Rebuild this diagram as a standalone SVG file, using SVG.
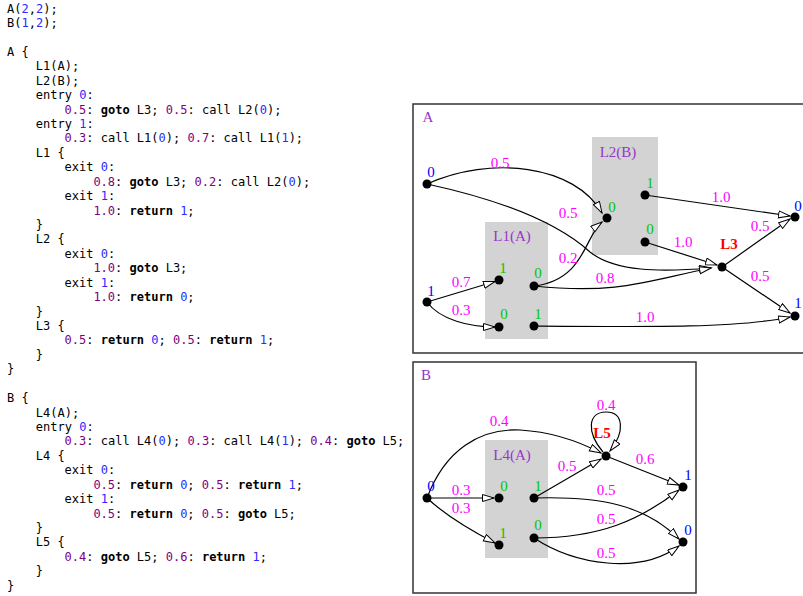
<svg xmlns="http://www.w3.org/2000/svg" width="803" height="596" viewBox="0 0 803 596">
<style>
.c{font-family:"DejaVu Sans Mono","Liberation Mono",monospace;font-size:12px;fill:#000;white-space:pre}
.n{fill:#2a2aff}
.p{fill:#800080}
.k{font-weight:bold}
.frame{fill:none;stroke:#333;stroke-width:1.5}
.box{fill:#d3d3d3;stroke:none}
.t{font-family:"Liberation Serif","Times New Roman",serif;font-size:15px;text-anchor:middle}
.pr{fill:#ff00ff}
.bl{fill:#0000ff}
.gr{fill:#00c800}
.pu{fill:#9933cc}
.rd{fill:#ff0000;font-weight:bold}
.dot{fill:#000}
.e{fill:none;stroke:#000;stroke-width:1.2;marker-end:url(#arr)}
</style>
<defs>
<marker id="arr" markerUnits="userSpaceOnUse" markerWidth="14" markerHeight="10" refX="12" refY="4" orient="auto">
<path d="M0.5,0.5 L12,4 L0.5,7.5 z" fill="#fff" stroke="#000" stroke-width="1"/>
</marker>
</defs>
<rect width="803" height="596" fill="#fff"/>

<g id="code">
<text class="c" x="7" y="12.5" xml:space="preserve">A(<tspan class="n">2</tspan>,<tspan class="n">2</tspan>);</text>
<text class="c" x="7" y="26.9" xml:space="preserve">B(<tspan class="n">1</tspan>,<tspan class="n">2</tspan>);</text>
<text class="c" x="7" y="55.8" xml:space="preserve">A {</text>
<text class="c" x="35.8" y="70.2" xml:space="preserve">L1(A);</text>
<text class="c" x="35.8" y="84.7" xml:space="preserve">L2(B);</text>
<text class="c" x="35.8" y="99.1" xml:space="preserve">entry <tspan class="n">0</tspan>:</text>
<text class="c" x="64.6" y="113.5" xml:space="preserve"><tspan class="p">0.5</tspan>: <tspan class="k">goto</tspan> L3; <tspan class="p">0.5</tspan>: call L2(<tspan class="n">0</tspan>);</text>
<text class="c" x="35.8" y="127.9" xml:space="preserve">entry <tspan class="n">1</tspan>:</text>
<text class="c" x="64.6" y="142.4" xml:space="preserve"><tspan class="p">0.3</tspan>: call L1(<tspan class="n">0</tspan>); <tspan class="p">0.7</tspan>: call L1(<tspan class="n">1</tspan>);</text>
<text class="c" x="35.8" y="156.8" xml:space="preserve">L1 {</text>
<text class="c" x="64.6" y="171.2" xml:space="preserve">exit <tspan class="n">0</tspan>:</text>
<text class="c" x="93.4" y="185.7" xml:space="preserve"><tspan class="p">0.8</tspan>: <tspan class="k">goto</tspan> L3; <tspan class="p">0.2</tspan>: call L2(<tspan class="n">0</tspan>);</text>
<text class="c" x="64.6" y="200.1" xml:space="preserve">exit <tspan class="n">1</tspan>:</text>
<text class="c" x="93.4" y="214.5" xml:space="preserve"><tspan class="p">1.0</tspan>: <tspan class="k">return</tspan> <tspan class="n">1</tspan>;</text>
<text class="c" x="35.8" y="228.9" xml:space="preserve">}</text>
<text class="c" x="35.8" y="243.4" xml:space="preserve">L2 {</text>
<text class="c" x="64.6" y="257.8" xml:space="preserve">exit <tspan class="n">0</tspan>:</text>
<text class="c" x="93.4" y="272.2" xml:space="preserve"><tspan class="p">1.0</tspan>: <tspan class="k">goto</tspan> L3;</text>
<text class="c" x="64.6" y="286.7" xml:space="preserve">exit <tspan class="n">1</tspan>:</text>
<text class="c" x="93.4" y="301.1" xml:space="preserve"><tspan class="p">1.0</tspan>: <tspan class="k">return</tspan> <tspan class="n">0</tspan>;</text>
<text class="c" x="35.8" y="315.5" xml:space="preserve">}</text>
<text class="c" x="35.8" y="330" xml:space="preserve">L3 {</text>
<text class="c" x="64.6" y="344.4" xml:space="preserve"><tspan class="p">0.5</tspan>: <tspan class="k">return</tspan> <tspan class="n">0</tspan>; <tspan class="p">0.5</tspan>: <tspan class="k">return</tspan> <tspan class="n">1</tspan>;</text>
<text class="c" x="35.8" y="358.8" xml:space="preserve">}</text>
<text class="c" x="7" y="373.3" xml:space="preserve">}</text>
<text class="c" x="7" y="402.1" xml:space="preserve">B {</text>
<text class="c" x="35.8" y="416.5" xml:space="preserve">L4(A);</text>
<text class="c" x="35.8" y="431" xml:space="preserve">entry <tspan class="n">0</tspan>:</text>
<text class="c" x="64.6" y="445.4" xml:space="preserve"><tspan class="p">0.3</tspan>: call L4(<tspan class="n">0</tspan>); <tspan class="p">0.3</tspan>: call L4(<tspan class="n">1</tspan>); <tspan class="p">0.4</tspan>: <tspan class="k">goto</tspan> L5;</text>
<text class="c" x="35.8" y="459.8" xml:space="preserve">L4 {</text>
<text class="c" x="64.6" y="474.3" xml:space="preserve">exit <tspan class="n">0</tspan>:</text>
<text class="c" x="93.4" y="488.7" xml:space="preserve"><tspan class="p">0.5</tspan>: <tspan class="k">return</tspan> <tspan class="n">0</tspan>; <tspan class="p">0.5</tspan>: <tspan class="k">return</tspan> <tspan class="n">1</tspan>;</text>
<text class="c" x="64.6" y="503.1" xml:space="preserve">exit <tspan class="n">1</tspan>:</text>
<text class="c" x="93.4" y="517.6" xml:space="preserve"><tspan class="p">0.5</tspan>: <tspan class="k">return</tspan> <tspan class="n">0</tspan>; <tspan class="p">0.5</tspan>: <tspan class="k">goto</tspan> L5;</text>
<text class="c" x="35.8" y="532" xml:space="preserve">}</text>
<text class="c" x="35.8" y="546.4" xml:space="preserve">L5 {</text>
<text class="c" x="64.6" y="560.8" xml:space="preserve"><tspan class="p">0.4</tspan>: <tspan class="k">goto</tspan> L5; <tspan class="p">0.6</tspan>: <tspan class="k">return</tspan> <tspan class="n">1</tspan>;</text>
<text class="c" x="35.8" y="575.3" xml:space="preserve">}</text>
<text class="c" x="7" y="589.7" xml:space="preserve">}</text>
</g>

<!-- Diagram A -->
<g id="frameA">
<rect class="frame" x="413" y="104" width="400" height="249"/>
<text class="t pu" x="428" y="122">A</text>
</g>
<g id="boxL1">
<rect class="box" x="485" y="222" width="63" height="117"/>
<text class="t pu" x="512" y="241">L1(A)</text>
</g>
<g id="boxL2">
<rect class="box" x="592" y="137" width="66" height="118"/>
<text class="t pu" x="618" y="157">L2(B)</text>
</g>

<g id="connectorsA">
<path class="e" d="M427,184 C490,155 575,165 602,213"/>
<path class="e" d="M427,184 C510,202 560,225 590,252 C615,272 660,272 711,268"/>
<path class="e" d="M534,286 C585,280 585,235 602,222"/>
<path class="e" d="M534,286 C620,295 650,280 711,268"/>
<path class="e" d="M427,302 L495,281.5"/>
<path class="e" d="M427,302 C440,320 470,327 495,327"/>
<path class="e" d="M534,326 C650,327 740,328 790,317"/>
<path class="e" d="M645,195 L790,216"/>
<path class="e" d="M645,242 L717,265"/>
<path class="e" d="M722,267 L790,219"/>
<path class="e" d="M722,267 L790,313"/>
</g>
<g id="labelsA">
<text class="t pr" x="500" y="168">0.5</text>
<text class="t pr" x="568" y="218">0.5</text>
<text class="t pr" x="568" y="263">0.2</text>
<text class="t pr" x="605" y="283">0.8</text>
<text class="t pr" x="461" y="287">0.7</text>
<text class="t pr" x="461" y="315">0.3</text>
<text class="t pr" x="645" y="322">1.0</text>
<text class="t pr" x="721" y="202">1.0</text>
<text class="t pr" x="683" y="247">1.0</text>
<text class="t pr" x="760" y="231">0.5</text>
<text class="t pr" x="760" y="281">0.5</text>
</g>

<g id="A_entry0"><circle class="dot" cx="427" cy="184" r="4.5"/><text class="t bl" x="431" y="177">0</text></g>
<g id="A_entry1"><circle class="dot" cx="427" cy="302" r="4.5"/><text class="t bl" x="431" y="296">1</text></g>
<g id="L1_in1"><circle class="dot" cx="499" cy="280" r="4.5"/><text class="t gr" x="503" y="273">1</text></g>
<g id="L1_in0"><circle class="dot" cx="499" cy="327" r="4.5"/><text class="t gr" x="504" y="319">0</text></g>
<g id="L1_out0"><circle class="dot" cx="534" cy="286" r="4.5"/><text class="t gr" x="538" y="278">0</text></g>
<g id="L1_out1"><circle class="dot" cx="534" cy="326" r="4.5"/><text class="t gr" x="538" y="319">1</text></g>
<g id="L2_in0"><circle class="dot" cx="607" cy="218" r="4.5"/><text class="t gr" x="612" y="212">0</text></g>
<g id="L2_out1"><circle class="dot" cx="645" cy="195" r="4.5"/><text class="t gr" x="650" y="188">1</text></g>
<g id="L2_out0"><circle class="dot" cx="645" cy="242" r="4.5"/><text class="t gr" x="650" y="234">0</text></g>
<g id="L3"><circle class="dot" cx="722" cy="267" r="4.5"/><text class="t rd" x="729" y="249">L3</text></g>
<g id="A_exit0"><circle class="dot" cx="795" cy="217" r="4.5"/><text class="t bl" x="798" y="211">0</text></g>
<g id="A_exit1"><circle class="dot" cx="795" cy="316" r="4.5"/><text class="t bl" x="798" y="308">1</text></g>

<!-- Diagram B -->
<g id="frameB">
<rect class="frame" x="413" y="362" width="283" height="231"/>
<text class="t pu" x="426" y="380">B</text>
</g>
<g id="boxL4">
<rect class="box" x="485" y="440" width="63" height="118"/>
<text class="t pu" x="512" y="460">L4(A)</text>
</g>

<g id="connectorsB">
<path class="e" d="M427,498 C445,450 480,428 520,430 C555,432 580,442 601,453"/>
<path class="e" d="M427,498 L494,498"/>
<path class="e" d="M427,498 C445,515 470,530 495,543"/>
<path class="e" d="M534,498 L601,459"/>
<path class="e" d="M534,498 C600,496 645,505 679,539"/>
<path class="e" d="M534,538 C600,538 640,520 679,490"/>
<path class="e" d="M534,538 C575,565 640,575 679,546"/>
<path class="e" d="M606,456 L679,485"/>
<path class="e" d="M603,452 C586,432 588,412 606,412 C624,412 625,432 610,451"/>
</g>
<g id="labelsB">
<text class="t pr" x="499" y="426">0.4</text>
<text class="t pr" x="461" y="495">0.3</text>
<text class="t pr" x="461" y="513">0.3</text>
<text class="t pr" x="567" y="471">0.5</text>
<text class="t pr" x="606" y="495">0.5</text>
<text class="t pr" x="606" y="524">0.5</text>
<text class="t pr" x="606" y="558">0.5</text>
<text class="t pr" x="606" y="410">0.4</text>
<text class="t pr" x="645" y="464">0.6</text>
</g>

<g id="B_entry0"><circle class="dot" cx="427" cy="498" r="4.5"/><text class="t bl" x="431" y="491">0</text></g>
<g id="L4_in0"><circle class="dot" cx="499" cy="498" r="4.5"/><text class="t gr" x="504" y="491">0</text></g>
<g id="L4_in1"><circle class="dot" cx="499" cy="545" r="4.5"/><text class="t gr" x="503" y="538">1</text></g>
<g id="L4_out1"><circle class="dot" cx="534" cy="498" r="4.5"/><text class="t gr" x="538" y="491">1</text></g>
<g id="L4_out0"><circle class="dot" cx="534" cy="538" r="4.5"/><text class="t gr" x="538" y="530">0</text></g>
<g id="L5"><circle class="dot" cx="606" cy="456" r="4.5"/><text class="t rd" x="602" y="438">L5</text></g>
<g id="B_exit1"><circle class="dot" cx="683" cy="487" r="4.5"/><text class="t bl" x="688" y="480">1</text></g>
<g id="B_exit0"><circle class="dot" cx="683" cy="542" r="4.5"/><text class="t bl" x="688" y="535">0</text></g>
</svg>
